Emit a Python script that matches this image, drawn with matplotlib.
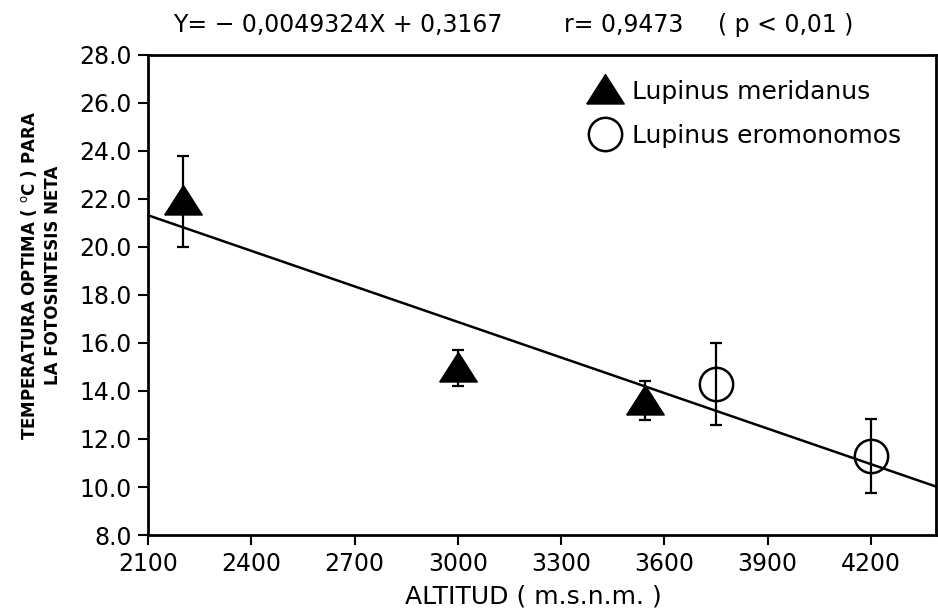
import numpy as np
import matplotlib
matplotlib.use("Agg")
import matplotlib.pyplot as plt
from matplotlib.ticker import FormatStrFormatter

# Altitude (m.s.n.m.) and optimum temperature for net photosynthesis
merid_alt = [2200, 3000, 3545]
merid_temp = [21.9, 14.95, 13.6]
merid_err = [1.9, 0.75, 0.8]

erom_alt = [3750, 4200]
erom_temp = [14.3, 11.3]
erom_err = [1.7, 1.53]

# Regression line as drawn
slope = -0.0049324
intercept = 31.67

x_ticks = [2100, 2400, 2700, 3000, 3300, 3600, 3900, 4200]
y_ticks = [8, 10, 12, 14, 16, 18, 20, 22, 24, 26, 28]

plt.rcParams["font.family"] = "DejaVu Sans"

fig = plt.figure(figsize=(9.38, 6.08), dpi=100)
ax = fig.add_axes([0.158, 0.12, 0.84, 0.79])

# wide, slightly flattened triangle marker
tri = [(-1, -0.72), (1, -0.72), (0, 0.85), (-1, -0.72)]

xl = np.array([2100, 4390])
ax.plot(xl, slope * xl + intercept, color="black", lw=1.8, zorder=2)

ax.errorbar(merid_alt, merid_temp, yerr=merid_err, fmt="none",
            ecolor="black", elinewidth=1.6, capsize=4.5, capthick=1.6, zorder=3)
ax.errorbar(erom_alt, erom_temp, yerr=erom_err, fmt="none",
            ecolor="black", elinewidth=1.6, capsize=4.5, capthick=1.6, zorder=3)

ax.plot(merid_alt, merid_temp, linestyle="none", marker=tri, ms=27,
        mfc="black", mec="black", zorder=4, label="Lupinus meridanus")
ax.plot(erom_alt, erom_temp, linestyle="none", marker="o", ms=24,
        mfc="none", mec="black", mew=1.8, zorder=4, label="Lupinus eromonomos")

ax.set_xlim(2100, 4390)
ax.set_ylim(8, 28)
ax.set_xticks(x_ticks)
ax.set_yticks(y_ticks)
ax.yaxis.set_major_formatter(FormatStrFormatter("%.1f"))

for s in ax.spines.values():
    s.set_linewidth(2)
ax.tick_params(axis="both", direction="out", length=7, width=1.5,
               labelsize=17, pad=5)

ax.set_xlabel("ALTITUD ( m.s.n.m. )", fontsize=18, va="top")
ax.xaxis.set_label_coords(0.489, -0.102)
ax.set_ylabel("TEMPERATURA OPTIMA ( $^{\\mathrm{o}}$C ) PARA\nLA FOTOSINTESIS NETA",
              fontsize=12, fontweight="bold", linespacing=1.35)
ax.yaxis.set_label_coords(-0.11, 0.54)

ax.legend(loc="upper left", bbox_to_anchor=(0.555, 0.948), frameon=False,
          fontsize=18, handletextpad=0.28, borderpad=0, borderaxespad=0,
          labelspacing=0.8, handlelength=1.6, markerscale=1.0)

# regression equation above the plot
ty = 1 - 25 / 608
fig.text(173 / 938, ty, "Y= − 0,0049324X + 0,3167",
         fontsize=17, ha="left", va="center")
fig.text(564 / 938, ty, "r= 0,9473",
         fontsize=17, ha="left", va="center")
fig.text(718 / 938, ty, "( p < 0,01 )",
         fontsize=17, ha="left", va="center")

fig.savefig("out.png", dpi=100)
